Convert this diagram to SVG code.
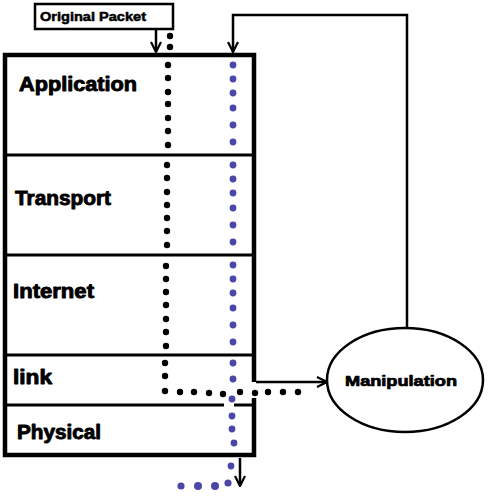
<svg xmlns="http://www.w3.org/2000/svg" width="500" height="500" viewBox="0 0 500 500">
<style>
.lbl{font-family:"Liberation Sans",Arial,sans-serif;font-weight:bold;fill:#000;stroke:#000;stroke-width:0.9;stroke-linejoin:round}
.box{fill:none;stroke:#000}
.conn{fill:none;stroke:#000;stroke-width:2.5}
.bd circle{fill:#000}
.ud circle{fill:#4a47a8}
</style>
<defs>
<marker id="arr" viewBox="0 0 12 12" refX="11" refY="6" markerWidth="12" markerHeight="12" markerUnits="userSpaceOnUse" orient="auto">
<path d="M1,1 L11,6 L1,11" fill="none" stroke="#000" stroke-width="2.2"/>
</marker>
</defs>
<rect width="500" height="500" fill="#fff"/>
<g id="stack">
<path class="box" stroke-width="4.5" d="M254,382 V55 H5 V455 H254 V398"/>
<line class="box" stroke-width="3" x1="5" y1="155" x2="254" y2="155"/>
<line class="box" stroke-width="3" x1="5" y1="255" x2="254" y2="255"/>
<line class="box" stroke-width="3" x1="5" y1="355" x2="254" y2="355"/>
<line class="box" stroke-width="3" x1="5" y1="405" x2="224" y2="405"/>
<line class="box" stroke-width="3" x1="234" y1="405" x2="254" y2="405"/>
</g>
<g id="application"><text class="lbl" x="19" y="91" font-size="20" textLength="118" lengthAdjust="spacingAndGlyphs">Application</text></g>
<g id="transport"><text class="lbl" x="15" y="205" font-size="20" textLength="96" lengthAdjust="spacingAndGlyphs">Transport</text></g>
<g id="internet"><text class="lbl" x="13" y="298" font-size="20" textLength="81" lengthAdjust="spacingAndGlyphs">Internet</text></g>
<g id="link"><text class="lbl" x="13" y="384" font-size="20" textLength="39" lengthAdjust="spacingAndGlyphs">link</text></g>
<g id="physical"><text class="lbl" x="17" y="439" font-size="20" textLength="84" lengthAdjust="spacingAndGlyphs">Physical</text></g>
<g id="original-packet">
<rect class="box" stroke-width="2.5" x="35" y="4" width="138" height="25"/>
<text class="lbl" x="40" y="21" font-size="12" textLength="106" lengthAdjust="spacingAndGlyphs" style="stroke-width:0.5">Original Packet</text>
</g>
<g id="manipulation">
<ellipse class="box" stroke-width="2.5" cx="405" cy="380" rx="78" ry="52"/>
<text class="lbl" x="401" y="386" font-size="14" text-anchor="middle" textLength="112" lengthAdjust="spacingAndGlyphs" style="stroke-width:0.7">Manipulation</text>
</g>
<g id="connectors">
<line class="conn" x1="156" y1="29" x2="156" y2="52" marker-end="url(#arr)"/>
<polyline class="conn" points="407,328 407,15 233,15 233,52" marker-end="url(#arr)"/>
<line class="conn" x1="256" y1="382" x2="327" y2="382" marker-end="url(#arr)"/>
<line class="conn" x1="240" y1="458" x2="240" y2="486" marker-end="url(#arr)"/>
<g class="bd">
<circle cx="170" cy="36" r="3.2"/><circle cx="170" cy="47" r="3.2"/>
<circle cx="168" cy="65" r="3.2"/><circle cx="168" cy="78" r="3.2"/><circle cx="168" cy="92" r="3.2"/><circle cx="168" cy="104" r="3.2"/><circle cx="168" cy="118" r="3.2"/><circle cx="168" cy="131" r="3.2"/><circle cx="168" cy="145" r="3.2"/>
<circle cx="167" cy="165" r="3.2"/><circle cx="167" cy="178" r="3.2"/><circle cx="167" cy="192" r="3.2"/><circle cx="167" cy="205" r="3.2"/><circle cx="167" cy="218" r="3.2"/><circle cx="167" cy="231" r="3.2"/><circle cx="167" cy="245" r="3.2"/>
<circle cx="166" cy="266" r="3.2"/><circle cx="166" cy="279" r="3.2"/><circle cx="166" cy="292" r="3.2"/><circle cx="166" cy="305" r="3.2"/><circle cx="166" cy="319" r="3.2"/><circle cx="166" cy="332" r="3.2"/><circle cx="166" cy="346" r="3.2"/>
<circle cx="165" cy="363" r="3.2"/><circle cx="165" cy="376" r="3.2"/><circle cx="165" cy="391" r="3.2"/>
<circle cx="180" cy="392" r="3.2"/><circle cx="194" cy="392" r="3.2"/><circle cx="209" cy="393" r="3.2"/><circle cx="223" cy="394" r="3.2"/><circle cx="240" cy="392" r="3.2"/><circle cx="255" cy="393" r="3.2"/><circle cx="268" cy="392" r="3.2"/><circle cx="283" cy="392" r="3.2"/><circle cx="298" cy="392" r="3.2"/>
</g>
<g class="ud">
<circle cx="233" cy="65" r="3.4"/><circle cx="233" cy="79" r="3.4"/><circle cx="233" cy="93" r="3.4"/><circle cx="233" cy="108" r="3.4"/><circle cx="233" cy="125" r="3.4"/><circle cx="233" cy="142" r="3.4"/>
<circle cx="233" cy="165" r="3.4"/><circle cx="233" cy="179" r="3.4"/><circle cx="233" cy="193" r="3.4"/><circle cx="233" cy="208" r="3.4"/><circle cx="233" cy="225" r="3.4"/><circle cx="233" cy="242" r="3.4"/>
<circle cx="233" cy="265" r="3.4"/><circle cx="233" cy="279" r="3.4"/><circle cx="233" cy="293" r="3.4"/><circle cx="233" cy="308" r="3.4"/><circle cx="233" cy="325" r="3.4"/><circle cx="233" cy="342" r="3.4"/>
<circle cx="233" cy="363" r="3.4"/><circle cx="233" cy="379" r="3.4"/>
<circle cx="232" cy="399" r="3.4"/><circle cx="232" cy="416" r="3.4"/><circle cx="232" cy="429" r="3.4"/><circle cx="234" cy="443" r="3.4"/>
<circle cx="231" cy="466" r="3.4"/>
<circle cx="228" cy="483" r="3.6"/><circle cx="215" cy="486" r="4"/><circle cx="198" cy="486" r="4"/><circle cx="181" cy="486" r="3.6"/>
</g>
</g>
</svg>
